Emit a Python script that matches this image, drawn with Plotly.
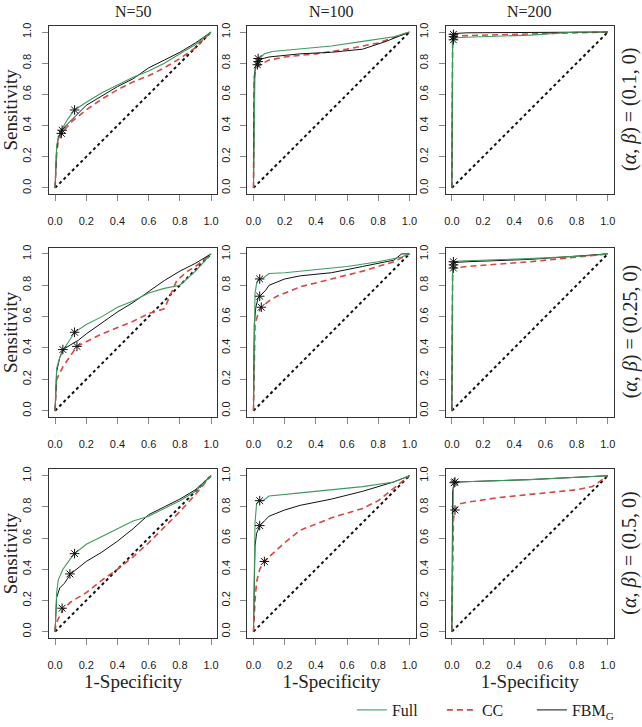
import plotly.graph_objects as go

col_titles = ["N=50", "N=100", "N=200"]
row_labels = ["(<i>α</i>, <i>β</i>) = (0.1, 0)",
              "(<i>α</i>, <i>β</i>) = (0.25, 0)",
              "(<i>α</i>, <i>β</i>) = (0.5, 0)"]
series_names = ["Full", "CC", "FBM<sub>G</sub>"]
diag = [0, 1]
ticks = [0.0, 0.2, 0.4, 0.6, 0.8, 1.0]

# ---- row 1: (alpha, beta) = (0.1, 0) ----
full_r1c1 = [(0,0),(0.005,0.2),(0.01,0.27),(0.02,0.32),(0.04,0.37),(0.08,0.44),(0.125,0.50),(0.2,0.55),(0.3,0.61),(0.4,0.66),(0.5,0.71),(0.6,0.75),(0.7,0.80),(0.8,0.86),(0.9,0.92),(1,1)]
cc_r1c1   = [(0,0),(0.01,0.22),(0.02,0.30),(0.05,0.36),(0.1,0.42),(0.2,0.50),(0.3,0.57),(0.4,0.63),(0.5,0.68),(0.6,0.72),(0.7,0.77),(0.8,0.83),(0.9,0.90),(1,1)]
fbm_r1c1  = [(0,0),(0.01,0.25),(0.02,0.32),(0.05,0.38),(0.1,0.43),(0.15,0.48),(0.2,0.53),(0.3,0.59),(0.4,0.65),(0.5,0.70),(0.6,0.77),(0.7,0.82),(0.8,0.87),(0.9,0.93),(1,1)]
star_r1c1 = [(0.125,0.50),(0.04,0.35),(0.045,0.37)]

full_r1c2 = [(0,0),(0.005,0.7),(0.01,0.77),(0.02,0.81),(0.04,0.83),(0.07,0.86),(0.12,0.875),(0.3,0.89),(0.5,0.91),(0.7,0.94),(0.9,0.97),(1,1)]
cc_r1c2   = [(0,0),(0.005,0.7),(0.015,0.76),(0.03,0.78),(0.06,0.80),(0.1,0.82),(0.2,0.84),(0.4,0.86),(0.6,0.89),(0.8,0.93),(1,1)]
fbm_r1c2  = [(0,0),(0.005,0.72),(0.015,0.78),(0.03,0.81),(0.06,0.83),(0.1,0.84),(0.3,0.86),(0.5,0.87),(0.7,0.89),(0.85,0.94),(1,1)]
star_r1c2 = [(0.03,0.83),(0.025,0.79),(0.03,0.81)]

full_r1c3 = [(0,0),(0.005,0.94),(0.02,0.96),(0.05,0.965),(0.5,0.98),(0.8,1.0),(1,1)]
cc_r1c3   = [(0,0),(0.005,0.96),(0.02,0.975),(0.2,0.98),(0.6,0.99),(1,1)]
fbm_r1c3  = [(0,0),(0.005,0.97),(0.01,0.99),(0.1,0.995),(1,1)]
star_r1c3 = [(0.01,0.95),(0.01,0.97),(0.01,0.985)]

# ---- row 2: (alpha, beta) = (0.25, 0) ----
full_r2c1 = [(0,0),(0.005,0.15),(0.01,0.27),(0.03,0.34),(0.06,0.40),(0.1,0.46),(0.125,0.50),(0.2,0.55),(0.3,0.60),(0.4,0.66),(0.5,0.70),(0.6,0.75),(0.7,0.78),(0.8,0.80),(0.9,0.89),(1,1)]
cc_r2c1   = [(0,0),(0.005,0.12),(0.01,0.2),(0.05,0.28),(0.1,0.35),(0.14,0.41),(0.2,0.44),(0.3,0.49),(0.4,0.53),(0.5,0.57),(0.6,0.62),(0.7,0.65),(0.78,0.83),(0.85,0.89),(0.9,0.92),(1,1)]
fbm_r2c1  = [(0,0),(0.01,0.25),(0.03,0.34),(0.05,0.39),(0.1,0.42),(0.15,0.45),(0.2,0.49),(0.3,0.56),(0.4,0.63),(0.5,0.69),(0.6,0.76),(0.7,0.83),(0.8,0.89),(0.9,0.94),(1,1)]
star_r2c1 = [(0.125,0.50),(0.14,0.41),(0.05,0.39)]

full_r2c2 = [(0,0),(0.005,0.6),(0.01,0.75),(0.02,0.81),(0.035,0.84),(0.06,0.845),(0.1,0.875),(0.2,0.88),(0.4,0.90),(0.6,0.92),(0.8,0.95),(0.95,0.98),(1,1)]
cc_r2c2   = [(0,0),(0.005,0.4),(0.01,0.55),(0.03,0.62),(0.05,0.66),(0.1,0.70),(0.15,0.73),(0.3,0.79),(0.5,0.84),(0.7,0.89),(0.9,0.95),(1,1)]
fbm_r2c2  = [(0,0),(0.005,0.55),(0.015,0.66),(0.03,0.72),(0.05,0.74),(0.08,0.77),(0.1,0.80),(0.2,0.84),(0.3,0.86),(0.5,0.88),(0.7,0.92),(0.9,0.96),(0.95,1.0),(1,1)]
star_r2c2 = [(0.04,0.84),(0.05,0.66),(0.04,0.73)]

full_r2c3 = [(0,0),(0.005,0.93),(0.01,0.95),(0.05,0.955),(0.5,0.97),(0.9,0.99),(1,1)]
cc_r2c3   = [(0,0),(0.005,0.9),(0.01,0.91),(0.1,0.92),(0.5,0.95),(0.9,0.99),(1,1)]
fbm_r2c3  = [(0,0),(0.005,0.93),(0.01,0.945),(0.1,0.95),(0.5,0.965),(1,1)]
star_r2c3 = [(0.01,0.95),(0.01,0.91),(0.01,0.93)]

# ---- row 3: (alpha, beta) = (0.5, 0) ----
full_r3c1 = [(0,0),(0.005,0.15),(0.01,0.25),(0.02,0.33),(0.05,0.40),(0.1,0.47),(0.125,0.50),(0.2,0.56),(0.3,0.61),(0.4,0.66),(0.5,0.71),(0.6,0.74),(0.7,0.79),(0.8,0.84),(0.9,0.90),(1,1)]
cc_r3c1   = [(0,0),(0.005,0.05),(0.02,0.08),(0.05,0.14),(0.1,0.19),(0.2,0.25),(0.3,0.33),(0.4,0.40),(0.5,0.48),(0.6,0.57),(0.7,0.67),(0.8,0.77),(0.9,0.88),(1,1)]
fbm_r3c1  = [(0,0),(0.005,0.12),(0.01,0.22),(0.03,0.28),(0.06,0.31),(0.1,0.37),(0.15,0.41),(0.2,0.45),(0.3,0.51),(0.4,0.58),(0.5,0.66),(0.6,0.75),(0.7,0.80),(0.8,0.85),(0.9,0.91),(1,1)]
star_r3c1 = [(0.125,0.50),(0.045,0.15),(0.095,0.37)]

full_r3c2 = [(0,0),(0.005,0.5),(0.01,0.7),(0.02,0.82),(0.035,0.84),(0.06,0.84),(0.1,0.87),(0.3,0.89),(0.5,0.91),(0.7,0.93),(0.9,0.96),(1,1)]
cc_r3c2   = [(0,0),(0.005,0.12),(0.01,0.2),(0.02,0.32),(0.04,0.40),(0.07,0.45),(0.1,0.48),(0.2,0.57),(0.3,0.65),(0.4,0.69),(0.5,0.73),(0.6,0.76),(0.7,0.79),(0.8,0.84),(0.9,0.92),(1,1)]
fbm_r3c2  = [(0,0),(0.005,0.4),(0.01,0.55),(0.02,0.63),(0.04,0.68),(0.07,0.71),(0.1,0.74),(0.2,0.78),(0.3,0.81),(0.5,0.85),(0.7,0.90),(0.9,0.96),(1,1)]
star_r3c2 = [(0.04,0.84),(0.07,0.45),(0.04,0.68)]

full_r3c3 = [(0,0),(0.005,0.9),(0.01,0.95),(0.03,0.96),(0.5,0.975),(1,1)]
cc_r3c3   = [(0,0),(0.005,0.6),(0.01,0.72),(0.02,0.78),(0.05,0.82),(0.1,0.83),(0.3,0.86),(0.5,0.88),(0.8,0.91),(0.9,0.93),(1,1)]
fbm_r3c3  = [(0,0),(0.005,0.9),(0.015,0.955),(0.05,0.96),(0.5,0.975),(1,1)]
star_r3c3 = [(0.02,0.96),(0.02,0.78),(0.015,0.955)]

panels = [
    [(full_r1c1, cc_r1c1, fbm_r1c1, star_r1c1), (full_r1c2, cc_r1c2, fbm_r1c2, star_r1c2), (full_r1c3, cc_r1c3, fbm_r1c3, star_r1c3)],
    [(full_r2c1, cc_r2c1, fbm_r2c1, star_r2c1), (full_r2c2, cc_r2c2, fbm_r2c2, star_r2c2), (full_r2c3, cc_r2c3, fbm_r2c3, star_r2c3)],
    [(full_r3c1, cc_r3c1, fbm_r3c1, star_r3c1), (full_r3c2, cc_r3c2, fbm_r3c2, star_r3c2), (full_r3c3, cc_r3c3, fbm_r3c3, star_r3c3)],
]

GREEN = "#3E9B5E"
RED = "#DC4640"
BLACK = "#111111"
W, H = 642, 727
SERIF = "Liberation Serif"
SANS = "Liberation Sans"

col_px = [(48, 217), (247, 416), (446, 615)]
row_px = [(23, 193), (247, 418), (471, 641)]

fig = go.Figure()
layout = dict(
    width=W, height=H, margin=dict(l=0, r=0, t=0, b=0),
    paper_bgcolor="white", plot_bgcolor="white",
    showlegend=True,
)

def xy(pts):
    return [p[0] for p in pts], [p[1] for p in pts]

k = 0
annotations = []
for r in range(3):
    for c in range(3):
        k += 1
        full, cc, fbm, stars = panels[r][c]
        xa = f"x{k}" if k > 1 else "x"
        ya = f"y{k}" if k > 1 else "y"
        first = (k == 1)
        fig.add_trace(go.Scatter(x=diag, y=diag, mode="lines", xaxis=xa, yaxis=ya,
                                 line=dict(color=BLACK, width=2, dash="3px,3px"),
                                 showlegend=False, hoverinfo="skip"))
        for pts, name, color, dash, wid, rank in [
            (cc, series_names[1], RED, "6px,4px", 1.6, 2),
            (fbm, series_names[2], BLACK, "solid", 1, 3),
            (full, series_names[0], GREEN, "solid", 1.1, 1),
        ]:
            x, y = xy(pts)
            fig.add_trace(go.Scatter(x=x, y=y, mode="lines", xaxis=xa, yaxis=ya,
                                     name=name, legendrank=rank, legendgroup=name,
                                     showlegend=first,
                                     line=dict(color=color, width=wid, dash=dash)))
        sx, sy = xy(stars)
        fig.add_trace(go.Scatter(x=sx, y=sy, mode="markers", xaxis=xa, yaxis=ya,
                                 marker=dict(symbol="asterisk-open", size=8, color=BLACK,
                                             line=dict(color=BLACK, width=1)),
                                 showlegend=False))
        x0, x1 = col_px[c]
        y0, y1 = row_px[r]
        axkey = "xaxis" if k == 1 else f"xaxis{k}"
        aykey = "yaxis" if k == 1 else f"yaxis{k}"
        common = dict(range=[-0.04, 1.04], tickvals=ticks, tickformat=".1f",
                      showgrid=False, zeroline=False, showline=True, mirror=True,
                      linecolor="#333333", linewidth=1, ticks="outside", ticklen=6,
                      tickcolor="#888888", tickwidth=1,
                      tickfont=dict(family=SANS, size=11, color="#1a1a1a"),
                      fixedrange=True)
        layout[axkey] = dict(common, domain=[x0 / W, x1 / W], anchor=ya,
                             ticklabelstandoff=11)
        layout[aykey] = dict(common, domain=[1 - y1 / H, 1 - y0 / H], anchor=xa,
                             tickangle=-90, ticklabelstandoff=6)
        if r == 2:
            layout[axkey]["title"] = dict(text="1-Specificity",
                                          font=dict(family=SERIF, size=19, color="#222222"),
                                          standoff=0)
        if c == 0:
            layout[aykey]["title"] = dict(text="Sensitivity",
                                          font=dict(family=SERIF, size=19, color="#222222"),
                                          standoff=0)

for c in range(3):
    x0, x1 = col_px[c]
    annotations.append(dict(text=col_titles[c], x=(x0 + x1) / 2 / W, y=1 - 9 / H,
                            xref="paper", yref="paper", showarrow=False,
                            font=dict(family=SERIF, size=16, color="#222222"),
                            xanchor="center", yanchor="middle"))
for r in range(3):
    y0, y1 = row_px[r]
    annotations.append(dict(text=row_labels[r], x=631 / W, y=1 - (y0 + y1) / 2 / H,
                            xref="paper", yref="paper", showarrow=False, textangle=-90,
                            font=dict(family=SERIF, size=20, color="#222222"),
                            xanchor="center", yanchor="middle"))

layout["annotations"] = annotations
layout["legend"] = dict(orientation="h", x=352 / W, y=1 - 714 / H, xanchor="left",
                        yanchor="middle", font=dict(family=SERIF, size=16, color="#222222"),
                        entrywidth=45, entrywidthmode="pixels", tracegroupgap=0,
                        bgcolor="rgba(0,0,0,0)")
fig.update_layout(**layout)
fig.write_html("out.html", config={"displayModeBar": False},
               post_script="document.body.style.margin='0';document.body.style.overflow='hidden';")
